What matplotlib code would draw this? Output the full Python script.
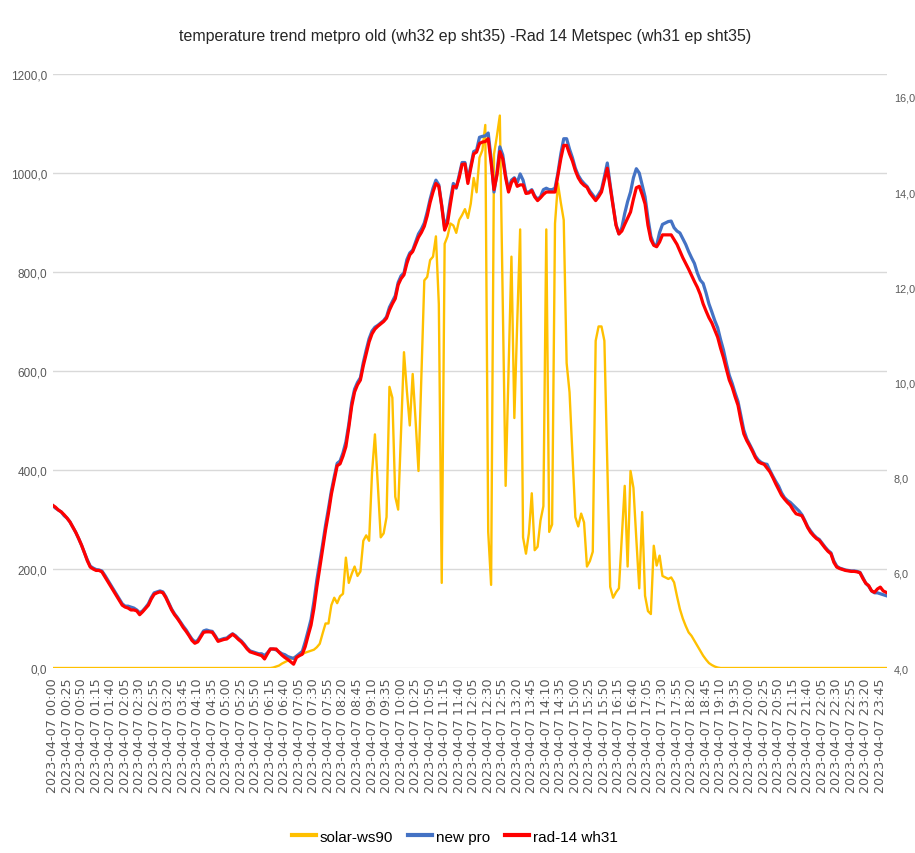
import pandas as pd
import matplotlib
matplotlib.use("Agg")
import matplotlib.pyplot as plt
from matplotlib.lines import Line2D

# 5-minute readings, 2023-04-07 00:00 .. 23:55
times = pd.date_range("2023-04-07 00:00", periods=288, freq="5min")

solar_ws90 = [
    0, 0, 0, 0, 0, 0, 0, 0, 0, 0,
    0, 0, 0, 0, 0, 0, 0, 0, 0, 0,
    0, 0, 0, 0, 0, 0, 0, 0, 0, 0,
    0, 0, 0, 0, 0, 0, 0, 0, 0, 0,
    0, 0, 0, 0, 0, 0, 0, 0, 0, 0,
    0, 0, 0, 0, 0, 0, 0, 0, 0, 0,
    0, 0, 0, 0, 0, 0, 0, 0, 0, 0,
    0, 0, 0, 0, 0, 0, 1, 3, 5, 9,
    12, 15, 18, 21, 24, 26, 28, 31, 33, 35,
    37, 42, 49, 70, 90, 90, 127, 142, 131, 145,
    150, 223, 172, 190, 205, 186, 195, 257, 268, 257,
    394, 472, 370, 264, 272, 305, 568, 546, 346, 320,
    480, 638, 560, 490, 594, 500, 398, 590, 783, 790,
    824, 831, 872, 735, 172, 857, 872, 898, 894, 879,
    905, 915, 927, 909, 938, 990, 961, 1031, 1046, 1097,
    275, 168, 1038, 1075, 1116, 740, 368, 600, 831, 505,
    700, 886, 264, 231, 272, 353, 238, 245, 298, 327,
    886, 275, 290, 898, 979, 940, 905, 616, 557, 430,
    305, 286, 312, 294, 205, 216, 235, 661, 690, 690,
    661, 410, 164, 142, 153, 161, 265, 368, 205, 398,
    364, 260, 161, 315, 146, 115, 109, 247, 207, 227,
    186, 183, 180, 183, 173, 145, 119, 100, 85, 72,
    65, 55, 45, 35, 25, 17, 10, 6, 3, 1,
    0, 0, 0, 0, 0, 0, 0, 0, 0, 0,
    0, 0, 0, 0, 0, 0, 0, 0, 0, 0,
    0, 0, 0, 0, 0, 0, 0, 0, 0, 0,
    0, 0, 0, 0, 0, 0, 0, 0, 0, 0,
    0, 0, 0, 0, 0, 0, 0, 0, 0, 0,
    0, 0, 0, 0, 0, 0, 0, 0,
]

new_pro = [
    7.42, 7.36, 7.32, 7.28, 7.20, 7.15, 7.07, 6.96, 6.85, 6.72,
    6.58, 6.42, 6.27, 6.14, 6.10, 6.07, 6.06, 6.04, 5.95, 5.85,
    5.75, 5.65, 5.55, 5.45, 5.35, 5.30, 5.30, 5.28, 5.26, 5.22,
    5.16, 5.20, 5.27, 5.35, 5.48, 5.58, 5.60, 5.62, 5.60, 5.50,
    5.37, 5.24, 5.14, 5.06, 4.97, 4.88, 4.80, 4.70, 4.61, 4.55,
    4.58, 4.68, 4.78, 4.80, 4.78, 4.77, 4.68, 4.58, 4.60, 4.62,
    4.63, 4.68, 4.72, 4.68, 4.62, 4.57, 4.50, 4.42, 4.36, 4.34,
    4.32, 4.30, 4.30, 4.26, 4.32, 4.40, 4.40, 4.38, 4.34, 4.30,
    4.28, 4.24, 4.22, 4.20, 4.25, 4.30, 4.35, 4.55, 4.78, 5.02,
    5.40, 5.85, 6.22, 6.60, 7.00, 7.35, 7.72, 8.02, 8.30, 8.35,
    8.52, 8.75, 9.12, 9.58, 9.86, 10.00, 10.10, 10.42, 10.68, 10.92,
    11.08, 11.16, 11.20, 11.25, 11.30, 11.38, 11.58, 11.70, 11.82, 12.10,
    12.24, 12.30, 12.58, 12.72, 12.78, 12.95, 13.12, 13.22, 13.35, 13.58,
    13.85, 14.08, 14.25, 14.15, 13.72, 13.25, 13.45, 13.85, 14.18, 14.08,
    14.35, 14.62, 14.62, 14.25, 14.55, 14.85, 14.88, 15.15, 15.17, 15.18,
    15.24, 14.70, 14.00, 14.40, 14.95, 14.78, 14.35, 14.05, 14.25, 14.30,
    14.20, 14.38, 14.25, 14.00, 14.00, 14.05, 13.92, 13.85, 13.90, 14.05,
    14.08, 14.05, 14.05, 14.08, 14.40, 14.80, 15.12, 15.12, 14.90, 14.72,
    14.50, 14.35, 14.25, 14.18, 14.12, 14.02, 13.94, 13.86, 13.95, 14.05,
    14.32, 14.61, 14.15, 13.72, 13.32, 13.12, 13.25, 13.55, 13.80, 14.00,
    14.30, 14.49, 14.40, 14.15, 13.90, 13.45, 13.07, 12.90, 12.88, 13.15,
    13.32, 13.35, 13.38, 13.39, 13.25, 13.18, 13.14, 13.02, 12.90, 12.75,
    12.62, 12.50, 12.30, 12.15, 12.08, 11.88, 11.65, 11.48, 11.30, 11.15,
    10.90, 10.68, 10.40, 10.15, 9.98, 9.78, 9.60, 9.30, 9.00, 8.82,
    8.70, 8.58, 8.45, 8.37, 8.32, 8.29, 8.28, 8.15, 8.03, 7.92,
    7.82, 7.68, 7.58, 7.52, 7.48, 7.42, 7.36, 7.30, 7.22, 7.10,
    6.97, 6.88, 6.80, 6.74, 6.70, 6.62, 6.54, 6.47, 6.42, 6.25,
    6.14, 6.10, 6.08, 6.06, 6.05, 6.04, 6.04, 6.03, 6.01, 5.90,
    5.78, 5.72, 5.62, 5.58, 5.58, 5.56, 5.54, 5.52,
]

rad14_wh31 = [
    7.42, 7.38, 7.32, 7.28, 7.22, 7.15, 7.07, 6.96, 6.85, 6.72,
    6.58, 6.42, 6.25, 6.12, 6.08, 6.05, 6.05, 6.02, 5.92, 5.82,
    5.72, 5.62, 5.52, 5.42, 5.32, 5.28, 5.26, 5.22, 5.22, 5.20,
    5.12, 5.18, 5.25, 5.32, 5.45, 5.55, 5.58, 5.60, 5.58, 5.48,
    5.35, 5.22, 5.12, 5.04, 4.95, 4.85, 4.77, 4.68, 4.58, 4.52,
    4.55, 4.65, 4.75, 4.76, 4.76, 4.75, 4.66, 4.56, 4.58, 4.60,
    4.61, 4.66, 4.71, 4.66, 4.60, 4.55, 4.48, 4.40, 4.34, 4.32,
    4.30, 4.28, 4.26, 4.19, 4.30, 4.40, 4.40, 4.40, 4.33, 4.27,
    4.22, 4.18, 4.13, 4.08, 4.22, 4.26, 4.29, 4.45, 4.68, 4.90,
    5.25, 5.70, 6.10, 6.50, 6.90, 7.25, 7.65, 7.95, 8.25, 8.29,
    8.45, 8.65, 9.05, 9.50, 9.80, 9.95, 10.05, 10.35, 10.60, 10.85,
    11.02, 11.12, 11.18, 11.23, 11.28, 11.35, 11.52, 11.65, 11.76, 12.05,
    12.18, 12.26, 12.50, 12.68, 12.75, 12.90, 13.05, 13.15, 13.28, 13.50,
    13.78, 14.00, 14.18, 14.12, 13.70, 13.20, 13.35, 13.75, 14.12, 14.10,
    14.30, 14.58, 14.59, 14.18, 14.50, 14.80, 14.84, 15.02, 15.05, 15.06,
    15.12, 14.62, 14.05, 14.35, 14.85, 14.70, 14.30, 14.00, 14.20, 14.28,
    14.12, 14.15, 14.15, 13.97, 13.98, 14.03, 13.90, 13.82, 13.88, 13.95,
    14.00, 14.00, 14.00, 14.00, 14.35, 14.70, 14.98, 14.98, 14.80, 14.65,
    14.45, 14.30, 14.20, 14.14, 14.10, 13.98, 13.90, 13.82, 13.90, 14.00,
    14.25, 14.50, 14.10, 13.70, 13.30, 13.12, 13.18, 13.32, 13.45, 13.58,
    13.85, 14.09, 14.12, 13.95, 13.75, 13.30, 13.00, 12.88, 12.85, 12.95,
    13.10, 13.10, 13.10, 13.10, 13.00, 12.90, 12.76, 12.62, 12.50, 12.38,
    12.25, 12.12, 12.00, 11.85, 11.65, 11.50, 11.36, 11.25, 11.10, 10.95,
    10.72, 10.52, 10.28, 10.05, 9.90, 9.70, 9.52, 9.20, 8.92, 8.78,
    8.67, 8.55, 8.42, 8.33, 8.30, 8.28, 8.20, 8.12, 8.00, 7.87,
    7.75, 7.63, 7.55, 7.48, 7.42, 7.32, 7.24, 7.22, 7.20, 7.08,
    6.95, 6.85, 6.78, 6.72, 6.68, 6.60, 6.52, 6.45, 6.40, 6.22,
    6.12, 6.09, 6.07, 6.05, 6.04, 6.03, 6.03, 6.02, 6.00, 5.88,
    5.78, 5.73, 5.62, 5.59, 5.66, 5.70, 5.62, 5.59,
]

left_ticks = [0, 200, 400, 600, 800, 1000, 1200]
right_ticks = [4, 6, 8, 10, 12, 14, 16]
label_every = 5

TITLE = "temperature trend metpro old (wh32 ep sht35) -Rad 14 Metspec (wh31 ep sht35)"
FONT = ["Liberation Sans", "DejaVu Sans"]
GREY = "#595959"
YELLOW, BLUE, RED = "#FFC000", "#4472C4", "#FF0000"


def comma(v):
    return f"{v:.1f}".replace(".", ",")


fig = plt.figure(figsize=(9.15, 8.54), dpi=100)
ax = fig.add_axes([0.0574, 0.2166, 0.912, 0.6956])
ax2 = ax.twinx()

x = list(range(len(times)))
ax.plot(x, solar_ws90, color=YELLOW, lw=1.7, zorder=3)
ax2.plot(x, new_pro, color=BLUE, lw=2.3, zorder=3)
ax2.plot(x, rad14_wh31, color=RED, lw=2.3, zorder=4)

ax.set_xlim(0, 287.3)
ax.set_ylim(0, 1200)
ax2.set_ylim(4, 16.48)

ax.set_yticks(left_ticks)
ax.set_yticklabels([comma(v) for v in left_ticks], family=FONT, fontsize=8.5, color=GREY)
ax2.set_yticks(right_ticks)
ax2.set_yticklabels([comma(v) for v in right_ticks], family=FONT, fontsize=7.8, color=GREY)

tick_pos = x[::label_every]
ax.set_xticks(tick_pos)
ax.set_xticklabels([times[i].strftime("%Y-%m-%d %H:%M") for i in tick_pos],
                   rotation=90, family="DejaVu Sans", fontsize=9.2, color=GREY)

ax.tick_params(axis="y", length=0, pad=4)
ax.tick_params(axis="x", length=0, pad=7)
ax2.tick_params(axis="y", length=0, pad=5)
ax.grid(axis="y", color="#D9D9D9", lw=1)
ax.set_axisbelow(True)
for a in (ax, ax2):
    for s in a.spines.values():
        s.set_visible(False)

fig.text(0.508, 0.9567, TITLE, ha="center", va="center", fontsize=11.5,
         family=FONT, color="#262626")

handles = [Line2D([], [], color=YELLOW, lw=3),
           Line2D([], [], color=BLUE, lw=3),
           Line2D([], [], color=RED, lw=3)]
fig.legend(handles, ["solar-ws90", "new pro", "rad-14 wh31"], loc="center",
           bbox_to_anchor=(0.497, 0.019), ncol=3, frameon=False, handlelength=1.55,
           columnspacing=1.0, handletextpad=0.25,
           prop={"family": FONT, "size": 11})

fig.savefig("out.png", dpi=100)
